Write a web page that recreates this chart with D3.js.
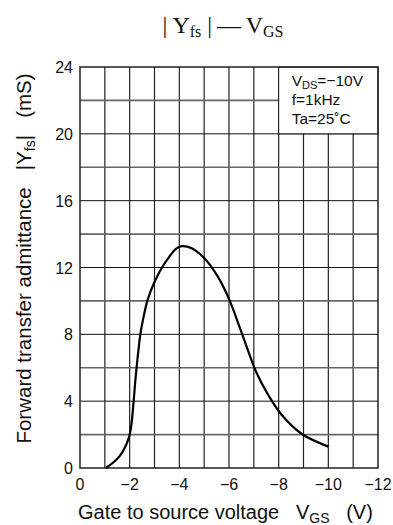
<!DOCTYPE html>
<html>
<head>
<meta charset="utf-8">
<script src="https://cdn.jsdelivr.net/npm/d3@7"></script>
<style>
  body { margin: 0; background: #fff; }
  text { font-family: "Liberation Sans", Arial, sans-serif; white-space: pre; }
</style>
</head>
<body>
<div id="chart"></div>
<script>
// Data: gate-source voltage (V) and |Yfs| (mS)
const vgs = [-1.04, -1.58, -1.98, -2.16, -2.22, -2.32, -2.43, -2.54, -2.72, -2.99, -3.3, -3.6, -3.85, -4.1, -4.5, -5.01, -5.55, -6.02, -6.42, -6.76, -7.10, -7.57, -8.11, -8.92, -10.0];
const yfs = [0, 0.68, 1.88, 4.0, 5.1, 6.6, 8.0, 8.9, 10.05, 11.1, 12.0, 12.65, 13.1, 13.28, 13.15, 12.55, 11.45, 10.05, 8.46, 7.06, 5.73, 4.4, 3.2, 2.05, 1.28];

const xTicks = [0, -2, -4, -6, -8, -10, -12];
const yTicks = [0, 4, 8, 12, 16, 20, 24];
const conditions = ["=−10V", "f=1kHz", "Ta=25˚C"];

const W = 393, H = 525;
const margin = { top: 67, right: 15, bottom: 57, left: 80 };

const svg = d3.select('#chart')
    .append('svg')
    .attr('width', W)
    .attr('height', H);

const x = d3.scaleLinear().domain([0, -12]).range([margin.left, W - margin.right]);
const y = d3.scaleLinear().domain([0, 24]).range([H - margin.bottom, margin.top]);

// Grid: vertical every 1 V, horizontal every 2 mS
const grid = svg.append('g');
grid.selectAll('.vline')
    .data(d3.range(-1, -12, -1))
    .join('line')
    .attr('x1', d => x(d)).attr('x2', d => x(d))
    .attr('y1', y(0)).attr('y2', y(24))
    .attr('stroke', '#222').attr('stroke-width', 1.2);

grid.selectAll('.hline')
    .data(d3.range(2, 24, 2))
    .join('line')
    .attr('x1', x(0)).attr('x2', x(-12))
    .attr('y1', d => y(d)).attr('y2', d => y(d))
    .attr('stroke', d => d % 4 === 0 ? '#111' : '#666')
    .attr('stroke-width', d => d % 4 === 0 ? 1 : 1.6);

// Conditions box (covers the grid in the top right corner)
svg.append('rect')
    .attr('x', x(-8)).attr('y', y(24))
    .attr('width', x(-12) - x(-8)).attr('height', y(20) - y(24))
    .attr('fill', '#fff').attr('stroke', '#111').attr('stroke-width', 1);

// Frame
svg.append('rect')
    .attr('x', x(0)).attr('y', y(24))
    .attr('width', x(-12) - x(0)).attr('height', y(0) - y(24))
    .attr('fill', 'none').attr('stroke', '#222').attr('stroke-width', 1.5);

// Curve
const line = d3.line()
    .x((d, i) => x(vgs[i]))
    .y(d => y(d))
    .curve(d3.curveCatmullRom.alpha(0.5));

svg.append('path')
    .datum(yfs)
    .attr('d', line)
    .attr('fill', 'none')
    .attr('stroke', '#000')
    .attr('stroke-width', 2.2);

// Tick labels
svg.selectAll('.xt')
    .data(xTicks)
    .join('text')
    .attr('x', d => x(d))
    .attr('y', y(0) + 22)
    .attr('text-anchor', 'middle')
    .attr('font-size', 16)
    .attr('fill', '#111')
    .text(d => d === 0 ? '0' : '−' + Math.abs(d));

svg.selectAll('.yt')
    .data(yTicks)
    .join('text')
    .attr('x', x(0) - 7)
    .attr('y', d => y(d) + 6)
    .attr('text-anchor', 'end')
    .attr('font-size', 16)
    .attr('fill', '#111')
    .text(d => d);

// Axis titles
const xt = svg.append('text')
    .attr('x', x(0) - 2)
    .attr('y', H - 6)
    .attr('font-size', 20)
    .attr('fill', '#111');
xt.append('tspan').text('Gate to source voltage   V');
xt.append('tspan').attr('font-size', 14).attr('dy', 4).text('GS');
xt.append('tspan').attr('dy', -4).text('   (V)');

const yt = svg.append('text')
    .attr('transform', `translate(31, ${(y(0) + y(24)) / 2 - 9}) rotate(-90)`)
    .attr('text-anchor', 'middle')
    .attr('font-size', 20.5)
    .attr('fill', '#111');
yt.append('tspan').text('Forward transfer admittance   |Y');
yt.append('tspan').attr('font-size', 14).attr('dy', 4).text('fs');
yt.append('tspan').attr('dy', -4).text('|   (mS)');

// Conditions text
const cx = x(-8) + 13;
const c1 = svg.append('text').attr('x', cx).attr('y', y(24) + 19).attr('font-size', 15.5).attr('fill', '#111');
c1.append('tspan').text('V');
c1.append('tspan').attr('font-size', 11).attr('dy', 3).text('DS');
c1.append('tspan').attr('dy', -3).text(conditions[0]);
svg.append('text').attr('x', cx).attr('y', y(24) + 38).attr('font-size', 15.5).attr('fill', '#111').text(conditions[1]);
svg.append('text').attr('x', cx).attr('y', y(24) + 57).attr('font-size', 15.5).attr('fill', '#111').text(conditions[2]);

// Chart title
const title = svg.append('text')
    .attr('x', 223)
    .attr('y', 33)
    .attr('text-anchor', 'middle')
    .attr('font-size', 24)
    .attr('fill', '#111')
    .style('font-family', '"Liberation Serif", "Times New Roman", serif');
title.append('tspan').text('| Y');
title.append('tspan').attr('font-size', 16).attr('dy', 4).text('fs');
title.append('tspan').attr('dy', -4).text(' |\u2009—\u2009V');
title.append('tspan').attr('font-size', 16).attr('dy', 4).text('GS');
</script>
</body>
</html>
